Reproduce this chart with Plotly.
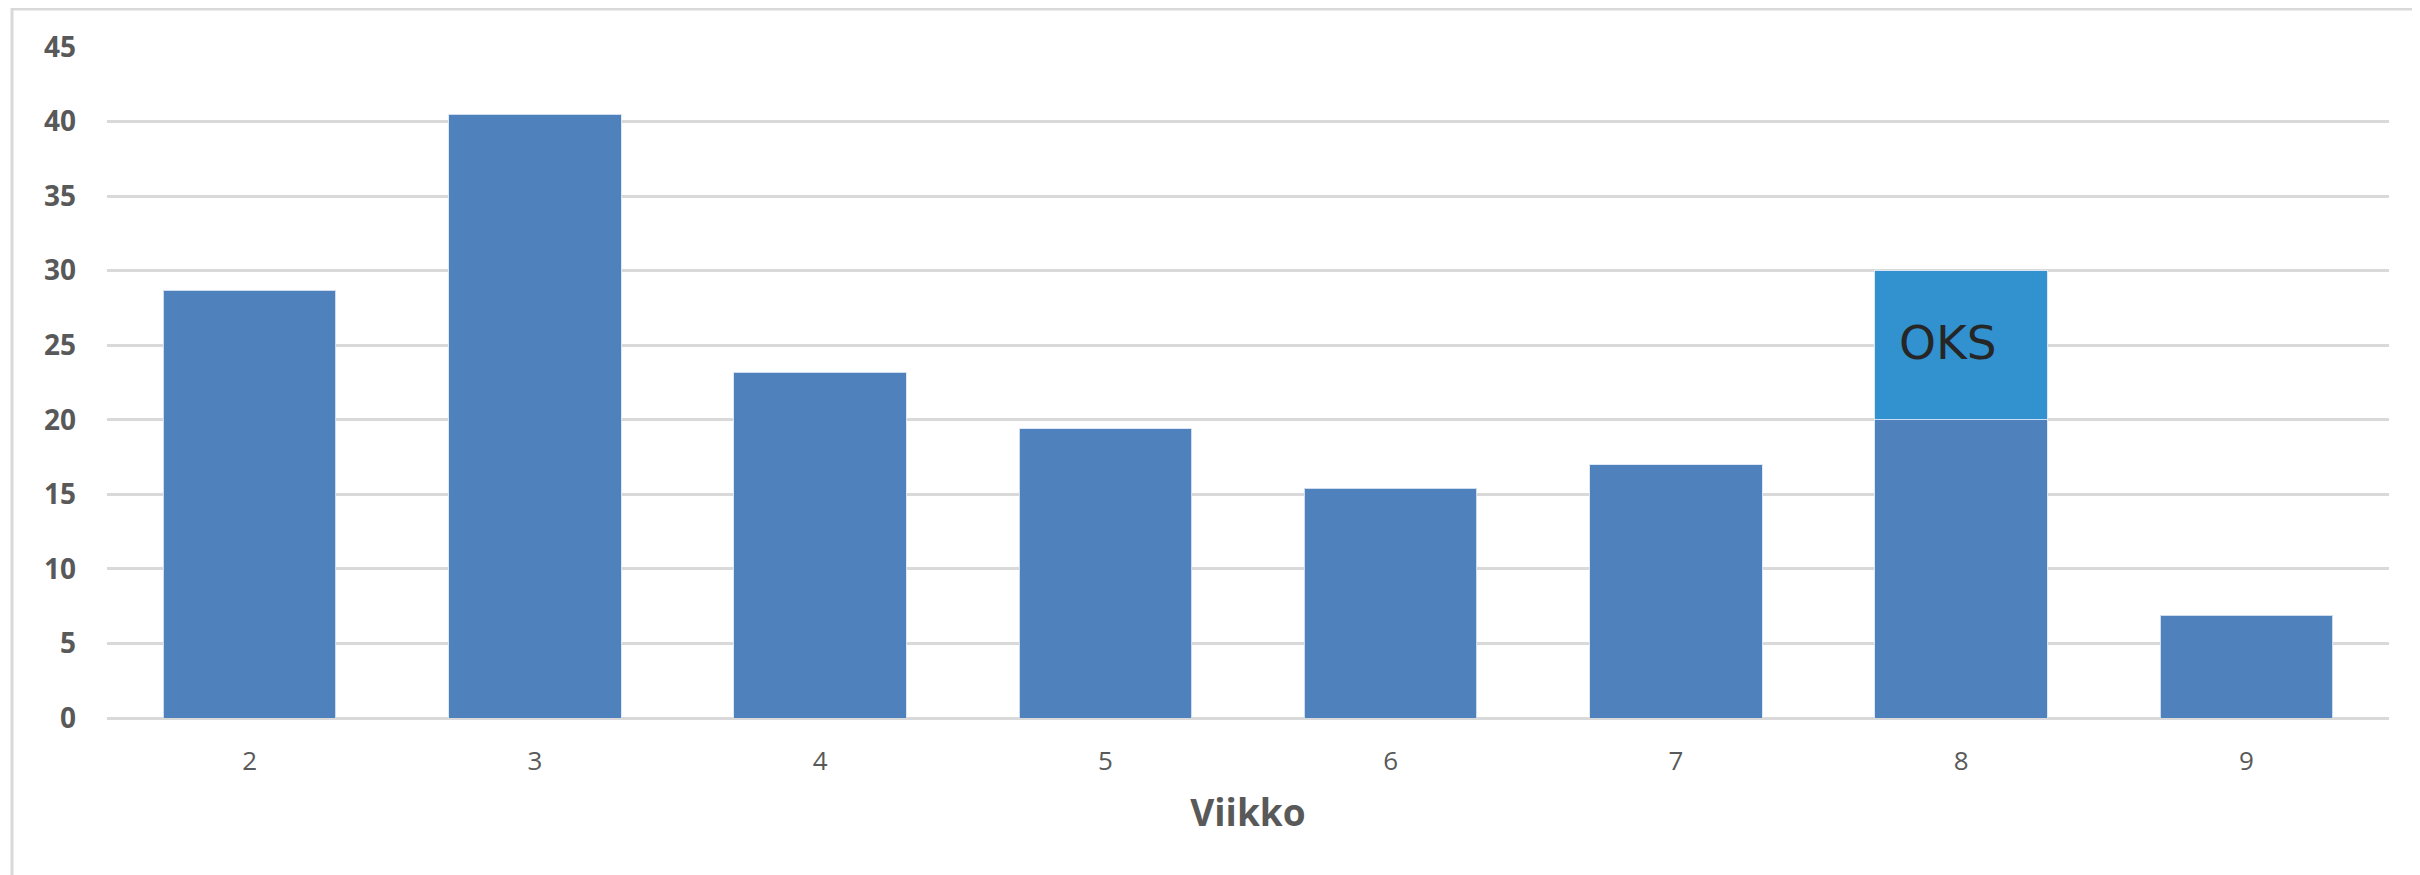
import plotly.graph_objects as go

weeks = ["2", "3", "4", "5", "6", "7", "8", "9"]
base_values = [28.7, 40.5, 23.2, 19.4, 15.4, 17.0, 20.0, 6.9]
oks_values = [None, None, None, None, None, None, 10.0, None]
oks_label = "OKS"
oks_week_index = 6
oks_label_y = 25.4
y_ticks = [0, 5, 10, 15, 20, 25, 30, 35, 40, 45]

# page has an 8px body margin, so the figure is slightly smaller
W, H = 2412, 867
ml, mr, mt, mb = 99, 31, 39, 157
pw = W - ml - mr
ph = H - mt - mb

fig = go.Figure()
fig.add_trace(go.Bar(
    x=weeks, y=base_values, marker_color="#4F81BD",
    marker_line=dict(color="rgba(220,230,245,0.9)", width=1),
    showlegend=False, hoverinfo="skip",
))
fig.add_trace(go.Bar(
    x=weeks, y=oks_values, marker_color="#3291CF",
    marker_line=dict(color="rgba(220,230,245,0.9)", width=1),
    showlegend=False, hoverinfo="skip",
))

fig.add_annotation(
    x=oks_week_index, y=oks_label_y, text=oks_label, showarrow=False,
    xshift=-13, yshift=-3,
    font=dict(family="DejaVu Sans", size=47, color="#262626"),
)

# outer frame (partly cropped on right and bottom)
fig.add_shape(
    type="rect", xref="paper", yref="paper",
    x0=(4 - ml) / pw, x1=1.2, y0=-0.5, y1=(ph + mt - 1) / ph,
    line=dict(color="#D9D9D9", width=3), layer="below",
)

fig.update_layout(
    width=W, height=H,
    margin=dict(l=ml, r=mr, t=mt, b=mb, autoexpand=False),
    barmode="stack", bargap=0.395,
    plot_bgcolor="white", paper_bgcolor="white",
    xaxis=dict(
        type="category", range=[-0.5, 7.5], showgrid=False, zeroline=False, showline=False,
        ticks="", ticklabelstandoff=25, automargin=False,
        tickfont=dict(family="Open Sans, DejaVu Sans", size=26, color="#595959"),
        title=dict(text="<b>Viikko</b>", standoff=23,
                   font=dict(family="Open Sans, DejaVu Sans", size=37, color="#595959")),
    ),
    yaxis=dict(
        range=[0, 45], tickvals=y_ticks, showgrid=True, gridcolor="#D9D9D9", gridwidth=3,
        zeroline=True, zerolinecolor="#D9D9D9", zerolinewidth=3, showline=False,
        ticks="", ticklabelstandoff=30, automargin=False,
        tickfont=dict(family="Open Sans, DejaVu Sans", size=28, color="#595959", weight="bold"),
    ),
)

fig.write_html("out.html")
